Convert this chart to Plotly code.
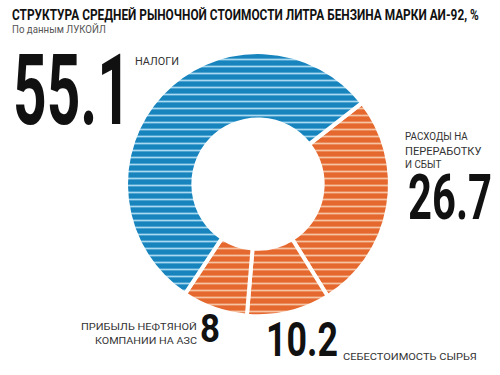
import plotly.graph_objects as go
import json

labels = ["Расходы на переработку и сбыт", "Себестоимость сырья", "Прибыль нефтяной компании на АЗС", "Налоги"]
values = [26.7, 10.2, 8, 55.1]
colors = ["#e5692f", "#e5692f", "#e5692f", "#1784bd"]
stripe_colors = ["#f6c3a3", "#f6c3a3", "#f6c3a3", "#a9d9f1"]

title = "СТРУКТУРА СРЕДНЕЙ РЫНОЧНОЙ СТОИМОСТИ ЛИТРА БЕНЗИНА МАРКИ АИ-92, %"
subtitle = "По данным ЛУКОЙЛ"
label_lines = [["РАСХОДЫ НА", "ПЕРЕРАБОТКУ", "И СБЫТ"], ["СЕБЕСТОИМОСТЬ СЫРЬЯ"],
               ["ПРИБЫЛЬ НЕФТЯНОЙ", "КОМПАНИИ НА АЗС"], ["НАЛОГИ"]]

fig = go.Figure(go.Pie(
    labels=labels, values=values, sort=False, direction="clockwise", rotation=52,
    hole=0.49, textinfo="none", hoverinfo="label+value",
    marker=dict(colors=colors, line=dict(color="white", width=4),
                pattern=dict(shape="-", fgcolor=stripe_colors, bgcolor=colors,
                             fillmode="replace", size=7, solidity=0.25)),
    domain=dict(x=[0.252, 0.78], y=[0.157, 0.861]),
    showlegend=False,
))

big = "Roboto, Liberation Sans, sans-serif"
small = "Roboto, Liberation Sans, sans-serif"
num = [f"{v:g}" for v in values]

# (text, x_left, y_center, size, family, color, bold, target_width)
items = [
    (title, 10, 15, 14, small, "#111", True, 467),
    (subtitle, 10, 29, 10, small, "#555", False, 94),
    (num[3], 11, 90, 98, big, "#111", True, 118),
    (label_lines[3][0], 133, 61.5, 10, small, "#333", False, 44),
    (label_lines[0][0], 403, 136.5, 10.5, small, "#333", False, 63),
    (label_lines[0][1], 403, 151, 10.5, small, "#333", False, 77),
    (label_lines[0][2], 403, 164, 10.5, small, "#333", False, 37),
    (num[0], 406, 197.5, 63, big, "#111", True, 84),
    (label_lines[2][0], 79, 326, 9.5, small, "#333", False, 116),
    (label_lines[2][1], 93, 340, 9.5, small, "#333", False, 102),
    (num[2], 198, 329, 39, big, "#111", True, 20),
    (num[1], 264, 339.5, 49, big, "#111", True, 72),
    (label_lines[1][0], 341, 356, 9.5, small, "#333", False, 134),
]

ann = []
widths = {}
for text, x, y, size, fam, col, bold, w in items:
    ann.append(dict(x=x / 500, y=1 - y / 375, xref="paper", yref="paper", showarrow=False,
                    xanchor="left", yanchor="middle", align="left",
                    text=f"<b>{text}</b>" if bold else text,
                    font=dict(size=size, family=fam, color=col)))
    widths[text] = w

fig.update_layout(width=500, height=375, margin=dict(l=0, r=0, t=0, b=0),
                  paper_bgcolor="white", plot_bgcolor="white", annotations=ann)

# Horizontally condense each text (kept as real SVG text) to the reference width.
post = """
document.body.style.margin = '0';
var gd = document.getElementById('{plot_id}');
var W = %s;
gd.querySelectorAll('.annotation-text').forEach(function(t){
  var s = t.textContent;
  if (!W[s]) return;
  var p = t.parentNode;
  var bb = t.getBBox();
  if (!bb.width) return;
  var sx = W[s] / bb.width;
  var x0 = bb.x;
  var tr = p.getAttribute('transform') || '';
  p.setAttribute('transform', tr + ' translate(' + x0 + ',0) scale(' + sx + ',1) translate(' + (-x0) + ',0)');
});
""" % json.dumps(widths, ensure_ascii=False)

fig.write_html("out.html", post_script=post, config={"displayModeBar": False})
